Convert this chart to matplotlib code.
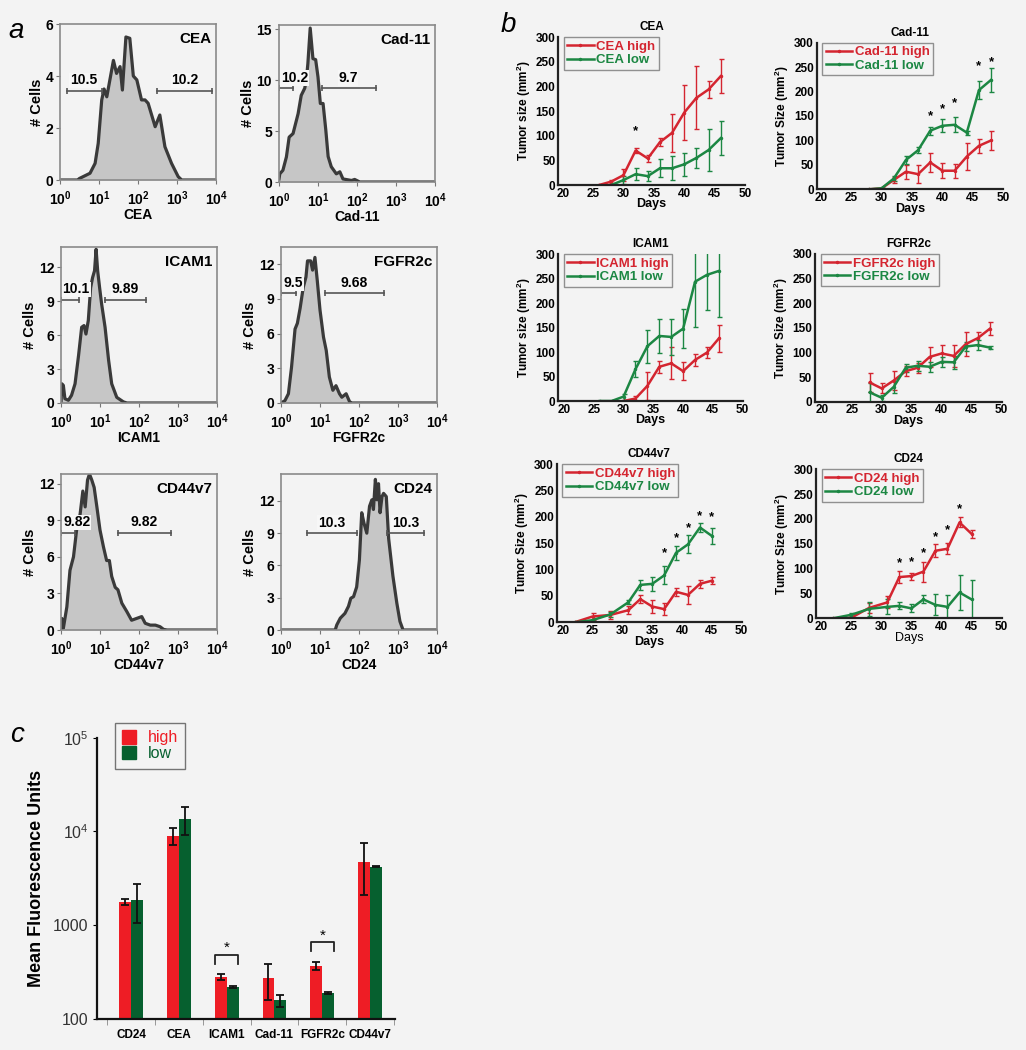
import numpy as np
import matplotlib
matplotlib.use("Agg")
import matplotlib.pyplot as plt
from matplotlib.patches import Patch
from matplotlib.lines import Line2D

plt.rcParams['font.family'] = ['Liberation Sans', 'DejaVu Sans']
plt.rcParams['mathtext.fontset'] = 'custom'
plt.rcParams['mathtext.rm'] = 'Liberation Sans'
plt.rcParams['mathtext.bf'] = 'Liberation Sans:bold'
plt.rcParams['mathtext.it'] = 'Liberation Sans:italic'

BG = '#f3f3f3'
W, H = 1026, 1050

# ---- panel a: flow histograms (x in log10 decades, y = # cells) ----
cea_hx = [0, 0.45, 0.5, 0.77, 0.9, 0.98, 1.07, 1.13, 1.2, 1.37, 1.45, 1.54, 1.6, 1.69, 1.79, 1.88,
          1.97, 2.09, 2.18, 2.26, 2.35, 2.44, 2.56, 2.69, 2.86, 3.03, 3.12, 4]
cea_hy = [0, 0, 0.06, 0.26, 0.64, 1.41, 3.08, 3.5, 3.2, 4.6, 4.1, 4.36, 3.46, 5.5, 5.45, 4.0,
          3.85, 3.08, 3.08, 2.95, 2.5, 2.05, 2.5, 1.28, 0.64, 0.13, 0, 0]
cad_hx = [0, 0.02, 0.1, 0.19, 0.26, 0.36, 0.49, 0.57, 0.66, 0.7, 0.74, 0.8, 0.87, 0.94, 1.0, 1.06,
          1.13, 1.2, 1.26, 1.34, 1.47, 1.56, 1.64, 1.86, 1.94, 2.07, 4]
cad_hy = [0.3, 0.8, 1.15, 2.46, 4.4, 4.75, 6.7, 8.5, 9.2, 10.0, 11.6, 15.1, 12.1, 12.0, 10.3, 7.7,
          7.7, 5.1, 2.5, 1.5, 0.8, 1.0, 0.3, 0.15, 0.25, 0, 0]
icam_hx = [0, 0.02, 0.06, 0.1, 0.19, 0.27, 0.36, 0.45, 0.53, 0.59, 0.64, 0.7, 0.76, 0.81, 0.86, 0.9,
           0.94, 0.99, 1.04, 1.13, 1.22, 1.3, 1.43, 1.6, 1.69, 4]
icam_hy = [0, 1.7, 1.56, 0.38, 0.24, 0.68, 1.7, 4.2, 6.7, 6.85, 6.1, 7.3, 10.2, 11.1, 11.7, 13.6,
           11.7, 10.2, 8.8, 6.7, 3.8, 1.7, 0.5, 0.1, 0, 0]
fgfr_hx = [0, 0.1, 0.19, 0.27, 0.36, 0.42, 0.49, 0.57, 0.64, 0.68, 0.76, 0.81, 0.87, 0.93, 1.0, 1.09,
           1.16, 1.24, 1.33, 1.41, 1.5, 1.56, 1.67, 1.76, 1.82, 4]
fgfr_hy = [0, 0.2, 0.8, 3.1, 6.4, 6.9, 8.2, 10.0, 10.9, 12.3, 12.3, 11.5, 12.6, 10.6, 8.05, 5.7,
           4.55, 2.25, 1.1, 1.5, 0.8, 0.5, 0.8, 0.1, 0, 0]
cd44_hx = [0, 0.02, 0.06, 0.15, 0.23, 0.32, 0.4, 0.49, 0.56, 0.62, 0.68, 0.73, 0.79, 0.85, 0.92, 1.0,
           1.09, 1.17, 1.24, 1.3, 1.39, 1.46, 1.56, 1.69, 1.81, 1.94, 2.07, 2.16, 2.29, 2.42, 2.54,
           2.63, 2.72, 4]
cd44_hy = [0, 0.95, 0.14, 1.9, 4.9, 6.0, 8.2, 9.5, 11.4, 10.1, 12.3, 12.8, 12.3, 11.7, 10.1, 8.2,
           6.8, 5.7, 5.7, 4.4, 3.5, 3.3, 2.2, 1.5, 0.8, 0.95, 1.1, 0.55, 0.4, 0.4, 0.27,
           0.05, 0, 0]
cd24_hx = [0, 1.39, 1.43, 1.52, 1.64, 1.73, 1.79, 1.86, 1.94, 2.01, 2.07, 2.13, 2.2, 2.27, 2.33, 2.37,
           2.42, 2.46, 2.5, 2.54, 2.59, 2.63, 2.7, 2.76, 2.87, 2.97, 3.05, 3.13, 4]
cd24_hy = [0, 0, 0.47, 1.1, 1.55, 2.2, 2.95, 3.1, 4.0, 6.5, 10.9, 9.9, 9.0, 11.5, 12.1, 11.2,
           14.0, 12.1, 13.6, 10.9, 12.4, 12.7, 12.4, 8.5, 5.0, 2.5, 0.8, 0, 0]

# gates: (start, end, y, label, label_x) in decades
cea_gates = [(0.17, 1.07, 3.44, '10.5', 0.6), (2.48, 3.9, 3.44, '10.2', 3.2)]
cad_gates = [(0.0, 0.36, 9.2, '10.2', 0.4), (1.11, 2.48, 9.2, '9.7', 1.77)]
icam_gates = [(0.0, 0.46, 9.15, '10.1', 0.39), (1.14, 2.17, 9.15, '9.89', 1.64)]
fgfr_gates = [(0.0, 0.39, 9.5, '9.5', 0.32), (1.13, 2.65, 9.5, '9.68', 1.88)]
cd44_gates = [(0.0, 0.36, 8.0, '9.82', 0.4), (1.47, 2.83, 8.0, '9.82', 2.14)]
cd24_gates = [(0.66, 1.94, 9.05, '10.3', 1.3), (2.72, 3.67, 9.05, '10.3', 3.19)]

# ---- panel b: tumour growth ----
cea_days = [26, 28, 30, 32, 34, 36, 38, 40, 42, 44, 46]
cea_hi = [0, 7, 20, 70, 54, 87, 106, 147, 177, 194, 221]
cea_hi_err = [0, 3, 12, 6, 7, 8, 38, 56, 64, 17, 35]
cea_lo = [np.nan, 0, 10, 22, 18, 34, 34, 42, 55, 71, 95]
cea_lo_err = [0, 0, 8, 12, 10, 18, 24, 24, 20, 42, 34]
cea_stars = [(32, 110)]

cad_days = [28, 30, 32, 34, 36, 38, 40, 42, 44, 46, 48]
cad_hi = [0, 2, 19, 36, 31, 55, 38, 38, 67, 89, 100]
cad_hi_err = [0, 0, 6, 14, 18, 19, 15, 14, 27, 14, 19]
cad_lo = [0, 2, 22, 60, 80, 120, 130, 132, 116, 203, 224]
cad_lo_err = [0, 0, 5, 8, 6, 8, 13, 15, 4, 19, 24]
cad_stars = [(38, 149), (40, 164), (42, 176), (46, 252), (48, 261)]

icam_days = [26, 28, 30, 32, 34, 36, 38, 40, 42, 44, 46]
icam_hi = [np.nan, np.nan, 0, 5, 31, 70, 77, 61, 84, 99, 128]
icam_hi_err = [0, 0, 0, 5, 28, 12, 33, 18, 12, 12, 28]
icam_lo = [0, 0, 9, 65, 112, 133, 131, 148, 244, 258, 266]
icam_lo_err = [0, 0, 6, 16, 34, 34, 36, 40, 92, 72, 95]
icam_stars = []

fgfr_days = [28, 30, 32, 34, 36, 38, 40, 42, 44, 46, 48]
fgfr_hi = [39, 27, 43, 62, 69, 91, 98, 93, 117, 129, 148]
fgfr_hi_err = [20, 10, 19, 10, 10, 20, 18, 22, 25, 13, 13]
fgfr_lo = [19, 8, 30, 69, 73, 71, 81, 80, 112, 115, 110]
fgfr_lo_err = [19, 6, 12, 8, 10, 10, 10, 13, 10, 10, 3]
fgfr_stars = []

cd44_days = [22, 25, 28, 31, 33, 35, 37, 39, 41, 43, 45]
cd44_hi = [0, 11, 14, 23, 44, 30, 25, 58, 52, 73, 79]
cd44_hi_err = [0, 6, 8, 8, 8, 12, 12, 8, 17, 8, 7]
cd44_lo = [0, 4, 15, 38, 71, 73, 89, 132, 148, 180, 164]
cd44_lo_err = [0, 3, 4, 4, 10, 13, 17, 13, 17, 8, 16]
cd44_stars = [(37, 132), (39, 159), (41, 178), (43, 202), (45, 199)]

cd24_days = [22, 25, 28, 31, 33, 35, 37, 39, 41, 43, 45]
cd24_hi = [0, 1, 21, 32, 83, 85, 94, 136, 140, 193, 170]
cd24_hi_err = [0, 0, 10, 12, 12, 7, 20, 13, 11, 10, 8]
cd24_lo = [0, 7, 19, 23, 25, 20, 38, 27, 23, 52, 38]
cd24_lo_err = [0, 3, 14, 15, 7, 8, 8, 21, 24, 35, 39]
cd24_stars = [(33, 111), (35, 114), (37, 132), (39, 163), (41, 178), (43, 220)]

# ---- panel c: mean fluorescence ----
mfi_cats = ['CD24', 'CEA', 'ICAM1', 'Cad-11', 'FGFR2c', 'CD44v7']
mfi_high = [1770, 8980, 280, 273, 371, 4760]
mfi_high_lo = [1660, 7190, 262, 160, 336, 2090]
mfi_high_up = [1890, 10870, 299, 389, 409, 7500]
mfi_low = [1880, 13680, 220, 159, 190, 4210]
mfi_low_lo = [1064, 9200, 215, 133, 185, 4150]
mfi_low_up = [2722, 18240, 225, 181, 195, 4270]
sig_idx = [2, 4]
sig_top = [486, 659]
sig_leg = [389, 528]
sig_star = [572, 777]

RED = '#d42530'
GREEN = '#1c8743'
BAR_RED = '#ee1d25'
BAR_GREEN = '#06602f'

fig = plt.figure(figsize=(W / 100, H / 100), dpi=100)
fig.patch.set_facecolor(BG)


def px_axes(l, t, r, b):
    ax = fig.add_axes([l / W, 1 - b / H, (r - l) / W, (b - t) / H])
    ax.set_facecolor(BG)
    return ax


def draw_hist(box, name, hx, hy, ytop, yticks, gates):
    ax = px_axes(*box)
    x = 10 ** np.array(hx)
    ax.fill_between(x, hy, color='#c6c6c6', lw=0)
    ax.plot(x, hy, color='#3a3a3a', lw=2.3, solid_joinstyle='round')
    ax.set_xscale('log')
    ax.set_xlim(1, 1e4)
    ax.set_ylim(0, ytop)
    ax.set_xticks([1, 10, 100, 1000, 10000])
    ax.set_xticklabels([r'$\mathbf{10^{%d}}$' % k for k in range(5)])
    ax.set_yticks(yticks)
    for s in ax.spines.values():
        s.set_color('#8a8a8a')
        s.set_linewidth(1.2)
    ax.tick_params(labelsize=10, length=3, color='#777777')
    ax.tick_params(axis='x', pad=4)
    ax.tick_params(axis='y', pad=2)
    ax.tick_params(which='minor', length=2, color='#999999')
    for lab in ax.get_yticklabels():
        lab.set_fontweight('bold')
    ax.set_xlabel(name, fontsize=10, fontweight='bold', labelpad=0)
    ax.set_ylabel('# Cells', fontsize=10.5, fontweight='bold', labelpad=1)
    ax.text(0.97, 0.95, name, transform=ax.transAxes, ha='right', va='top',
            fontsize=11, fontweight='bold')
    for x1, x2, y, lab, lx in gates:
        ax.plot([10 ** x1, 10 ** x2], [y, y], color='#555555', lw=1.2,
                marker='|', ms=5, mew=1.2)
        ax.text(10 ** lx, y + ytop * 0.02, lab, ha='center', va='bottom', fontsize=10,
                fontweight='bold',
                bbox=dict(boxstyle='square,pad=0.05', fc='#f7f7f7', ec='none'))
    return ax


draw_hist((60, 24, 216, 180), 'CEA', cea_hx, cea_hy, 6, [0, 2, 4, 6], cea_gates)
draw_hist((279, 25, 435, 182), 'Cad-11', cad_hx, cad_hy, 15.4, [0, 5, 10, 15], cad_gates)
draw_hist((61, 247, 217, 403), 'ICAM1', icam_hx, icam_hy, 13.8, [0, 3, 6, 9, 12], icam_gates)
draw_hist((281, 247, 437, 403), 'FGFR2c', fgfr_hx, fgfr_hy, 13.5, [0, 3, 6, 9, 12], fgfr_gates)
draw_hist((61, 474, 217, 630), 'CD44v7', cd44_hx, cd44_hy, 12.8, [0, 3, 6, 9, 12], cd44_gates)
draw_hist((281, 474, 437, 630), 'CD24', cd24_hx, cd24_hy, 14.5, [0, 3, 6, 9, 12], cd24_gates)


def draw_growth(geom, name, days, hi, hi_err, lo, lo_err, stars, size_word, days_bold=True):
    p20, p50, yax, y0, y300 = geom
    ppd = (p50 - p20) / 30.0
    ax = px_axes(yax, y300, p50, y0)
    ax.set_xlim(20 - (p20 - yax) / ppd, 50)
    ax.set_ylim(0, 300)
    ax.errorbar(days, hi, yerr=hi_err, color=RED, lw=1.8, elinewidth=1, capsize=1.8,
                marker='.', ms=3)
    ax.errorbar(days, lo, yerr=lo_err, color=GREEN, lw=1.8, elinewidth=1, capsize=1.8,
                marker='.', ms=3)
    for d, y in stars:
        ax.text(d, y, '*', ha='center', va='center', fontsize=9.5, fontweight='bold')
    ax.spines['top'].set_visible(False)
    ax.spines['right'].set_visible(False)
    for s in ('left', 'bottom'):
        ax.spines[s].set_linewidth(1.6)
        ax.spines[s].set_color('#222222')
    ax.set_xticks([20, 25, 30, 35, 40, 45, 50])
    ax.set_yticks([0, 50, 100, 150, 200, 250, 300])
    ax.tick_params(labelsize=8.5, length=0, pad=2)
    for lab in ax.get_xticklabels() + ax.get_yticklabels():
        lab.set_fontweight('bold')
    ax.set_title(name, fontsize=8.5, fontweight='bold', pad=5)
    ax.set_xlabel('Days', fontsize=9, fontweight='bold' if days_bold else 'normal', labelpad=-1)
    ax.set_ylabel('Tumor %s (mm$^\\mathbf{2}$)' % size_word, fontsize=8.5, fontweight='bold',
                  labelpad=2)
    handles = [Line2D([], [], color=RED, lw=1.8, marker='.', ms=3, label=name + ' high'),
               Line2D([], [], color=GREEN, lw=1.8, marker='.', ms=3, label=name + ' low')]
    leg = ax.legend(handles=handles, loc='upper left', bbox_to_anchor=(0.03, 1.0),
                    borderaxespad=0, labelcolor='linecolor', frameon=True, fancybox=False,
                    handlelength=2.0, handletextpad=0.2, labelspacing=0.1, borderpad=0.25,
                    prop={'weight': 'bold', 'size': 9.5})
    leg.get_frame().set_edgecolor('#777777')
    leg.get_frame().set_facecolor(BG)
    leg.get_frame().set_linewidth(1)
    return ax


draw_growth((562.7, 745, 558.3, 185, 37.3), 'CEA', cea_days, cea_hi, cea_hi_err,
            cea_lo, cea_lo_err, cea_stars, 'size')
draw_growth((820.7, 1003.3, 816.7, 189.3, 42.7), 'Cad-11', cad_days, cad_hi, cad_hi_err,
            cad_lo, cad_lo_err, cad_stars, 'Size')
draw_growth((564, 742.7, 558.3, 401, 254.3), 'ICAM1', icam_days, icam_hi, icam_hi_err,
            icam_lo, icam_lo_err, icam_stars, 'size')
draw_growth((821.7, 1001.7, 815, 401.7, 254), 'FGFR2c', fgfr_days, fgfr_hi, fgfr_hi_err,
            fgfr_lo, fgfr_lo_err, fgfr_stars, 'Size')
draw_growth((562.7, 741.7, 556.7, 622.3, 464.3), 'CD44v7', cd44_days, cd44_hi, cd44_hi_err,
            cd44_lo, cd44_lo_err, cd44_stars, 'Size')
draw_growth((821, 1001.7, 816, 618.3, 469.3), 'CD24', cd24_days, cd24_hi, cd24_hi_err,
            cd24_lo, cd24_lo_err, cd24_stars, 'Size', days_bold=False)

# ---- panel c ----
axc = px_axes(97, 737.7, 395, 1019)
axc.set_yscale('log')
axc.set_ylim(100, 1e5)
axc.set_xlim(-0.71, 5.52)
xc = np.arange(len(mfi_cats))
hi = np.array(mfi_high)
lo = np.array(mfi_low)
axc.bar(xc - 0.125, hi, width=0.25, color=BAR_RED, label='high')
axc.bar(xc + 0.125, lo, width=0.25, color=BAR_GREEN, label='low')
axc.errorbar(xc - 0.125, hi, yerr=[hi - np.array(mfi_high_lo), np.array(mfi_high_up) - hi],
             fmt='none', ecolor='#111111', elinewidth=1.3, capsize=3, capthick=1.3)
axc.errorbar(xc + 0.125, lo, yerr=[lo - np.array(mfi_low_lo), np.array(mfi_low_up) - lo],
             fmt='none', ecolor='#111111', elinewidth=1.3, capsize=3, capthick=1.3)
for i, top, leg_y, st in zip(sig_idx, sig_top, sig_leg, sig_star):
    axc.plot([i - 0.24, i - 0.24, i + 0.24, i + 0.24], [leg_y, top, top, leg_y],
             color='#222222', lw=1.3)
    axc.text(i, st, '*', ha='center', va='center', fontsize=11)
axc.spines['top'].set_visible(False)
axc.spines['right'].set_visible(False)
for s in ('left', 'bottom'):
    axc.spines[s].set_linewidth(1.6)
    axc.spines[s].set_color('#111111')
axc.set_yticks([100, 1000, 1e4, 1e5])
axc.set_yticklabels(['100', '1000', r'$10^4$', r'$10^5$'])
axc.yaxis.set_minor_locator(matplotlib.ticker.NullLocator())
axc.tick_params(axis='y', labelsize=11.5, length=3, labelcolor='#333333', pad=3)
axc.set_xticks(xc)
axc.set_xticklabels(mfi_cats, fontsize=8.5, fontweight='bold')
axc.set_xticks(np.arange(-0.5, 6.0, 1.0), minor=True)
axc.tick_params(axis='x', which='major', length=0, pad=7)
axc.tick_params(axis='x', which='minor', length=4, color='#888888')
axc.set_ylabel('Mean Fluorescence Units', fontsize=13, fontweight='bold', labelpad=6)
handles = [Patch(color=BAR_RED, label='high'), Patch(color=BAR_GREEN, label='low')]
lc = axc.legend(handles=handles, loc='upper left', bbox_to_anchor=(0.06, 1.052),
                borderaxespad=0, fontsize=11.5, fancybox=False, handlelength=0.9,
                handleheight=0.9, handletextpad=0.7, labelspacing=0.05, borderpad=0.45)
lc.get_frame().set_edgecolor('#555555')
lc.get_frame().set_facecolor(BG)
lc.get_frame().set_linewidth(1)
for t, c in zip(lc.get_texts(), [BAR_RED, BAR_GREEN]):
    t.set_color(c)

# panel letters
fig.text(16 / W, 1 - 31 / H, 'a', fontsize=20, style='italic', ha='center', va='center')
fig.text(508 / W, 1 - 25 / H, 'b', fontsize=20, style='italic', ha='center', va='center')
fig.text(17 / W, 1 - 735 / H, 'c', fontsize=20, style='italic', ha='center', va='center')

fig.savefig('out.png', dpi=100, facecolor=BG)
